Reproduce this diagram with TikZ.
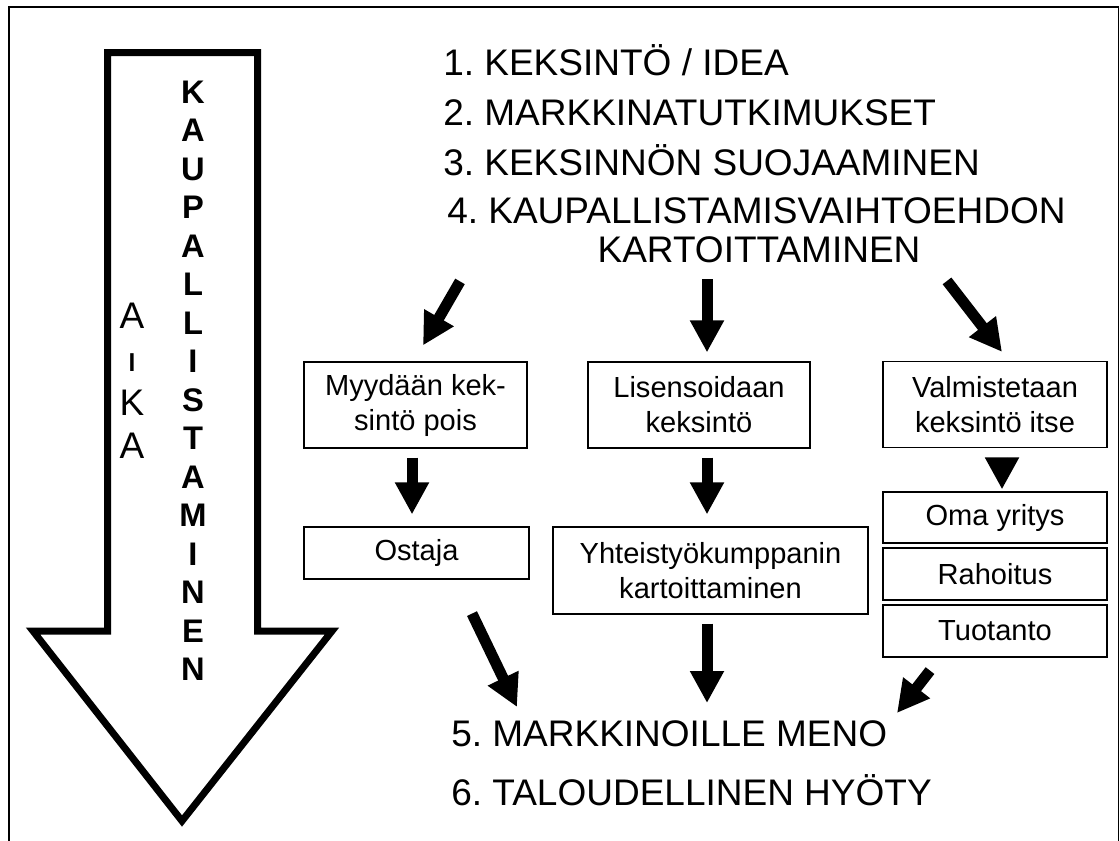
\documentclass[tikz,border=0pt]{standalone}
\usepackage{fontspec}
\setmainfont{Liberation Sans}
\usetikzlibrary{arrows.meta,calc}
\newdimen\pxl \pxl=0.75pt
\frenchspacing
\begin{document}
\frenchspacing
\begin{tikzpicture}[x=0.75pt,y=-0.75pt,
  box/.style={draw, line width=0.9pt, inner sep=0pt, align=center,
    font=\fontsize{21.8pt}{26.25pt}\selectfont},
  big/.style={anchor=base west, inner sep=0pt, font=\fontsize{27.75pt}{33pt}\selectfont},
  bigc/.style={big, anchor=base},
  blk/.style={line width=8.25pt, -{Triangle[width=24pt,length=24pt]}},
  vbold/.style={anchor=base, inner sep=0pt, font=\bfseries\fontsize{24.5pt}{24pt}\selectfont},
  vreg/.style={anchor=base, inner sep=0pt, font=\fontsize{27.75pt}{33pt}\selectfont}]
\useasboundingbox (0,0) rectangle (1120,840);
\fill[white] (0,0) rectangle (1120,840);
% frame
\draw[line width=1.2pt] (9,7) rectangle (1118.5,860);
% big time arrow
\draw[line width=5.25pt, miter limit=20]
  (107.5,52.5) -- (257.5,52.5) -- (257.5,631) -- (332,631) -- (182,821)
  -- (33,631) -- (107.5,631) -- cycle;
\foreach \c [count=\i from 0] in {K,A,U,P,A,L,L,I,S,T,A,M,I,N,E,N}
  \node[vbold] (k\i) at (193,{103.3+38.5*\i}) {\c};
\node[vreg] (a1) at (132,328) {A};
\node[vreg] (a2) at (132,371.5) {\scalebox{1}[0.7]{I}};
\node[vreg] (a3) at (132,415) {K};
\node[vreg] (a4) at (132,458) {A};
% headings
\node[big] (t1) at (443,75) {1. KEKSINTÖ / IDEA};
\node[big] (t2) at (443,125) {2. MARKKINATUTKIMUKSET};
\node[big] (t3) at (443,175) {3. KEKSINNÖN SUOJAAMINEN};
\node[big] (t4) at (447,223) {4. KAUPALLISTAMISVAIHTOEHDON};
\node[bigc] (t4b) at (759,262) {KARTOITTAMINEN};
\node[big] (t5) at (451,746) {5. MARKKINOILLE MENO};
\node[big] (t6) at (451,805) {6. TALOUDELLINEN HYÖTY};
% boxes
\node[box, minimum width=223\pxl, minimum height=86\pxl] (myy) at (415.5,405) {Myydään kek-\\sintö pois};
\node[box, minimum width=222\pxl, minimum height=86\pxl] (lis) at (699,405) {Lisensoidaan\\keksintö};
\node[box, minimum width=224\pxl, minimum height=86\pxl] (val) at (995,404.5) {Valmistetaan\\keksintö itse};
\node[box, minimum width=225\pxl, minimum height=52\pxl] (ost) at (416.5,553) {Ostaja};
\node[box, minimum width=315\pxl, minimum height=87\pxl] (yht) at (710.5,570.5) {Yhteistyökumppanin\\kartoittaminen};
\node[box, minimum width=224\pxl, minimum height=51\pxl] (oma) at (995,517.5) {Oma yritys};
\node[box, minimum width=224\pxl, minimum height=52\pxl] (rah) at (995,574) {Rahoitus};
\node[box, minimum width=224\pxl, minimum height=52\pxl] (tuo) at (995,631) {Tuotanto};
% arrows
\draw[blk] ($(myy.north)+(44.5,-80)$) -- ($(myy.north)+(7.5,-16)$);
\draw[blk] ($(lis.north)+(8,-82)$) -- ($(lis.north)+(8,-9)$);
\draw[blk] ($(val.north)+(-48,-80)$) -- ($(val.north)+(7,-9)$);
\draw[blk] ($(myy.south)+(-3.5,9)$) -- ($(ost.north)+(-4.5,-12)$);
\draw[blk] ($(lis.south)+(8,9)$) -- ($(yht.north)+(-3.5,-12)$);
\draw[blk] ($(val.south)+(7,9.5)$) -- ($(oma.north)+(7,-2)$);
\draw[blk] ($(ost.south)+(55.5,34)$) -- ($(t5.base west)+(66,-39)$);
\draw[blk] ($(yht.south)+(-3.5,9)$) -- ($(t5.base west)+(256,-43)$);
\draw[blk] ($(tuo.south)+(-65,13)$) -- ($(t5.base west)+(446,-33)$);
\end{tikzpicture}
\end{document}
